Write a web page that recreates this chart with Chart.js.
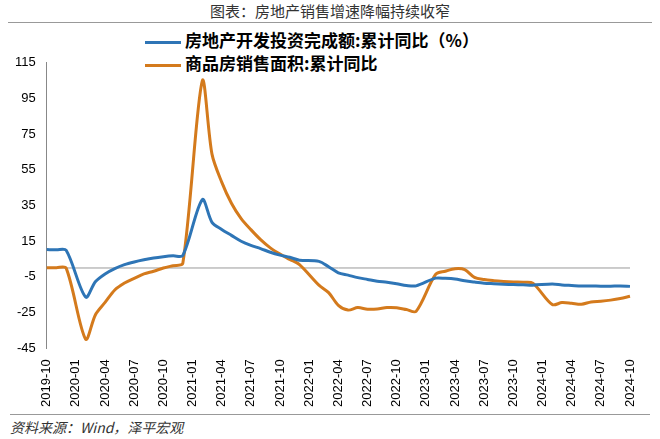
<!DOCTYPE html>
<html>
<head>
<meta charset="utf-8">
<script src="https://cdn.jsdelivr.net/npm/chart.js@4"></script>
<style>
  body { margin: 0; width: 660px; height: 439px; background: #fff; font-family: "Noto Sans CJK SC", sans-serif; overflow: hidden; }
  .titulo { height: 22px; line-height: 22px; text-align: center; font-size: 15px; color: #333; border-bottom: 1px solid #999; margin: 0 8px; }
  .fonte { position: absolute; left: 10px; top: 414px; font-size: 14px; font-style: italic; color: #333; border-top: 1px solid #999; width: 640px; padding-top: 2px; }
  .legenda { position: absolute; left: 145px; top: 28px; font-size: 17px; font-weight: bold; line-height: 23px; }
  .legenda span { display: inline-block; width: 36px; height: 3px; vertical-align: middle; margin-right: 4px; }
  #wrap { position: absolute; left: 0; top: 52px; width: 660px; height: 358px; }
</style>
</head>
<body>
<div class="titulo">图表：房地产销售增速降幅持续收窄</div>
<div class="legenda">
  <div><span style="background:#2e75b6"></span>房地产开发投资完成额:累计同比（%）</div>
  <div><span style="background:#d47a1c"></span>商品房销售面积:累计同比</div>
</div>
<div id="wrap"><canvas id="grafico"></canvas></div>
<div class="fonte">资料来源：Wind，泽平宏观</div>
<script>
// ── Dados (mensal, jan sem dado) ────────────────────────────────────────────
const meses = [];
for (let a = 2019; a <= 2024; a++) {
  for (let m = 1; m <= 12; m++) {
    if ((a === 2019 && m < 10) || (a === 2024 && m > 10)) continue;
    meses.push(a + '-' + String(m).padStart(2, '0'));
  }
}

const investimento = [
  10.3, 10.2, 9.9,
  null, -16.3, -7.7, -3.3, -0.3, 1.9, 3.4, 4.6, 5.6, 6.3, 6.8, 7.0,
  null, 38.3, 25.6, 21.6, 18.3, 15.0, 12.7, 10.9, 8.8, 7.2, 6.0, 4.4,
  null, 3.7, 0.7, -2.7, -4.0, -5.4, -6.4, -7.4, -8.0, -8.8, -9.8, -10.0,
  null, -5.7, -5.8, -6.2, -7.2, -7.9, -8.5, -8.8, -9.1, -9.3, -9.4, -9.6,
  null, -9.0, -9.5, -9.8, -10.1, -10.1, -10.2, -10.2, -10.1, -10.3
];

const vendas = [
  0.1, 0.2, -0.1,
  null, -39.9, -26.3, -19.3, -12.3, -8.4, -5.8, -3.3, -1.8, 0.0, 1.3, 2.6,
  null, 104.9, 63.8, 48.1, 36.3, 27.7, 21.5, 15.9, 11.3, 7.8, 4.8, 1.9,
  null, -9.6, -13.8, -20.9, -23.6, -22.2, -23.1, -23.0, -22.2, -22.3, -23.3, -24.3,
  null, -3.6, -1.8, -0.4, -0.9, -5.3, -6.5, -7.1, -7.5, -7.8, -8.0, -8.5,
  null, -20.5, -19.4, -19.8, -20.3, -19.0, -18.6, -18.0, -17.1, -15.8
];

// linha do zero
const linhaZero = {
  id: 'linhaZero',
  beforeDatasetsDraw(chart) {
    const { ctx, chartArea, scales } = chart;
    const y = scales.y.getPixelForValue(0);
    ctx.save();
    ctx.strokeStyle = '#999';
    ctx.lineWidth = 1;
    ctx.beginPath();
    ctx.moveTo(chartArea.left, y);
    ctx.lineTo(chartArea.right, y);
    ctx.stroke();
    ctx.restore();
  }
};

new Chart(document.getElementById('grafico'), {
  type: 'line',
  data: {
    labels: meses,
    datasets: [
      { label: '房地产开发投资完成额:累计同比（%）', data: investimento, borderColor: '#2e75b6', borderWidth: 3, pointRadius: 0, spanGaps: true, tension: 0.3 },
      { label: '商品房销售面积:累计同比', data: vendas, borderColor: '#d47a1c', borderWidth: 3, pointRadius: 0, spanGaps: true, tension: 0.3 }
    ]
  },
  options: {
    responsive: true,
    maintainAspectRatio: false,
    animation: false,
    layout: { padding: { left: 12, right: 30, top: 4, bottom: 0 } },
    plugins: {
      legend: { display: false },
      tooltip: { enabled: false }
    },
    scales: {
      y: {
        min: -45, max: 115,
        ticks: { stepSize: 20, color: '#000', font: { size: 13 } },
        grid: { display: false },
        border: { color: '#888' }
      },
      x: {
        grid: { display: false },
        border: { display: false },
        ticks: {
          autoSkip: false, maxRotation: 90, minRotation: 90, color: '#000', font: { size: 13 },
          callback: function (v, i) { return i % 3 === 0 ? meses[i] : ''; }
        }
      }
    }
  },
  plugins: [linhaZero]
});
</script>
</body>
</html>
